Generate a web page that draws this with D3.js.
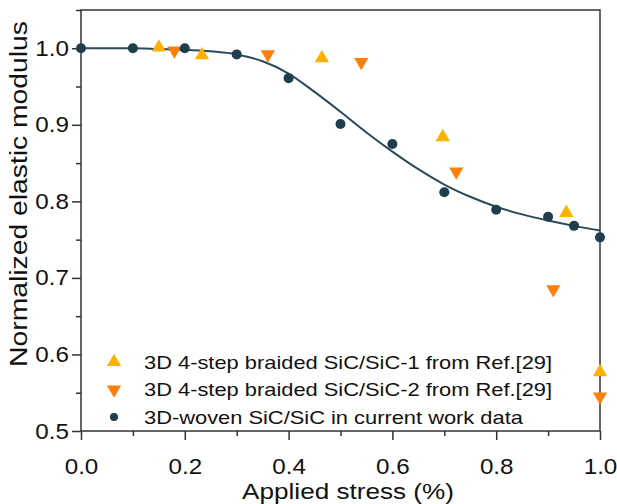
<!DOCTYPE html>
<html>
<head>
<meta charset="utf-8">
<script src="https://cdn.jsdelivr.net/npm/d3@7"></script>
<style>
  body { margin: 0; background: #fff; }
  text { font-family: "Liberation Sans", Arial, sans-serif; fill: #111; }
</style>
</head>
<body>
<svg id="chart" width="617" height="504"></svg>
<script>
// 3D 4-step braided SiC/SiC-1 (Ref.[29])
var braided1X = [0.15, 0.233, 0.464, 0.697, 0.935, 1.0];
var braided1Y = [1.001, 0.991, 0.987, 0.884, 0.785, 0.577];
// 3D 4-step braided SiC/SiC-2 (Ref.[29])
var braided2X = [0.18, 0.36, 0.54, 0.723, 0.91, 1.0];
var braided2Y = [0.997, 0.992, 0.982, 0.839, 0.685, 0.545];
// 3D-woven SiC/SiC, this work
var wovenX = [0.0, 0.1, 0.2, 0.3, 0.4, 0.5, 0.6, 0.7, 0.8, 0.9, 0.95, 1.0];
var wovenY = [1.0, 1.0, 1.0, 0.992, 0.961, 0.901, 0.875, 0.812, 0.789, 0.780, 0.768, 0.753];
// fitted curve through the woven data
var fitX = [0, 0.05, 0.1, 0.15, 0.2, 0.25, 0.3, 0.35, 0.4, 0.45, 0.5, 0.55, 0.6, 0.65, 0.7, 0.75, 0.8, 0.85, 0.9, 0.95, 1.0];
var fitY = [1.0, 1.0, 1.0, 0.999, 0.998, 0.996, 0.992, 0.983, 0.967, 0.943, 0.917, 0.890, 0.865, 0.842, 0.822, 0.806, 0.793, 0.783, 0.775, 0.768, 0.762];

var legendLabels = [
  "3D 4-step braided SiC/SiC-1 from Ref.[29]",
  "3D 4-step braided SiC/SiC-2 from Ref.[29]",
  "3D-woven SiC/SiC in current work data"
];
var xMajor = [0, 0.2, 0.4, 0.6, 0.8, 1.0];
var xMinor = [0.1, 0.3, 0.5, 0.7, 0.9];
var yMajor = [0.5, 0.6, 0.7, 0.8, 0.9, 1.0];
var yMinor = [0.55, 0.65, 0.75, 0.85, 0.95, 1.05];

var colYellow = "#ffb000", colOrange = "#ff7f0a", colDark = "#1f3d4c";

var svg = d3.select("#chart");
var margin = {left: 81, top: 10};
var width = 519, height = 421;
var g = svg.append("g").attr("transform", "translate(" + margin.left + "," + margin.top + ")");

var x = d3.scaleLinear().domain([0, 1]).range([0, width]);
var y = d3.scaleLinear().domain([0.5, 1.05]).range([height, 0]);

// widen text glyphs a little (spacing + glyphs)
function widen(sel, k) {
  sel.each(function(){
    this.setAttribute("textLength", this.getComputedTextLength() * k);
    this.setAttribute("lengthAdjust", "spacingAndGlyphs");
  });
}

// frame
g.append("rect").attr("width", width).attr("height", height)
  .attr("fill", "none").attr("stroke", "#333").attr("stroke-width", 1.5);

function styleAxis(sel) {
  sel.select(".domain").remove();
  sel.selectAll("line").attr("stroke", "#333").attr("stroke-width", 1.5);
  sel.selectAll("text").style("font-size", "22px").attr("fill", "#111");
  widen(sel.selectAll("text"), 1.1);
}

g.append("g").attr("transform", "translate(0," + height + ")")
  .call(d3.axisBottom(x).tickValues(xMajor).tickSize(9).tickPadding(18).tickFormat(d3.format(".1f")))
  .call(styleAxis);
g.append("g").attr("transform", "translate(0," + height + ")")
  .call(d3.axisBottom(x).tickValues(xMinor).tickSize(5).tickFormat(""))
  .call(styleAxis);
g.append("g")
  .call(d3.axisLeft(y).tickValues(yMajor).tickSize(9).tickPadding(3).tickFormat(d3.format(".1f")))
  .call(styleAxis);
g.append("g")
  .call(d3.axisLeft(y).tickValues(yMinor).tickSize(5).tickFormat(""))
  .call(styleAxis);

// fitted curve
var line = d3.line().x(function(d){ return x(d[0]); }).y(function(d){ return y(d[1]); })
  .curve(d3.curveMonotoneX);
g.append("path").datum(d3.zip(fitX, fitY))
  .attr("d", line).attr("fill", "none").attr("stroke", "#2a4a5a").attr("stroke-width", 2);

var triUp = d3.symbol().type(d3.symbolTriangle).size(88);

g.selectAll(".b1").data(d3.zip(braided1X, braided1Y)).enter().append("path")
  .attr("class", "b1").attr("d", triUp).attr("fill", colYellow)
  .attr("transform", function(d){ return "translate(" + x(d[0]) + "," + y(d[1]) + ")"; });

g.selectAll(".b2").data(d3.zip(braided2X, braided2Y)).enter().append("path")
  .attr("class", "b2").attr("d", triUp).attr("fill", colOrange)
  .attr("transform", function(d){ return "translate(" + x(d[0]) + "," + y(d[1]) + ") rotate(180)"; });

g.selectAll(".wv").data(d3.zip(wovenX, wovenY)).enter().append("circle")
  .attr("class", "wv").attr("r", 5).attr("fill", colDark)
  .attr("cx", function(d){ return x(d[0]); }).attr("cy", function(d){ return y(d[1]); });

// legend
var leg = svg.append("g").attr("transform", "translate(114,362)");
legendLabels.forEach(function(lab, i){
  var row = leg.append("g").attr("transform", "translate(0," + (i * 27.5) + ")");
  if (i == 0) row.append("path").attr("d", triUp).attr("fill", colYellow);
  else if (i == 1) row.append("path").attr("d", triUp).attr("fill", colOrange).attr("transform", "rotate(180)");
  else row.append("circle").attr("r", 4).attr("fill", colDark);
  var t = row.append("text").attr("x", 30).attr("dy", "0.36em").style("font-size", "19px").text(lab);
  widen(t, 1.15);
});

// axis titles
var xt = svg.append("text").attr("x", 348).attr("y", 499).attr("text-anchor", "middle")
  .style("font-size", "22.5px").text("Applied stress (%)");
widen(xt, 1.16);

var yt = svg.append("text").attr("transform", "translate(27,194) rotate(-90)").attr("text-anchor", "middle")
  .style("font-size", "23px").text("Normalized elastic modulus");
widen(yt, 1.23);
</script>
</body>
</html>
